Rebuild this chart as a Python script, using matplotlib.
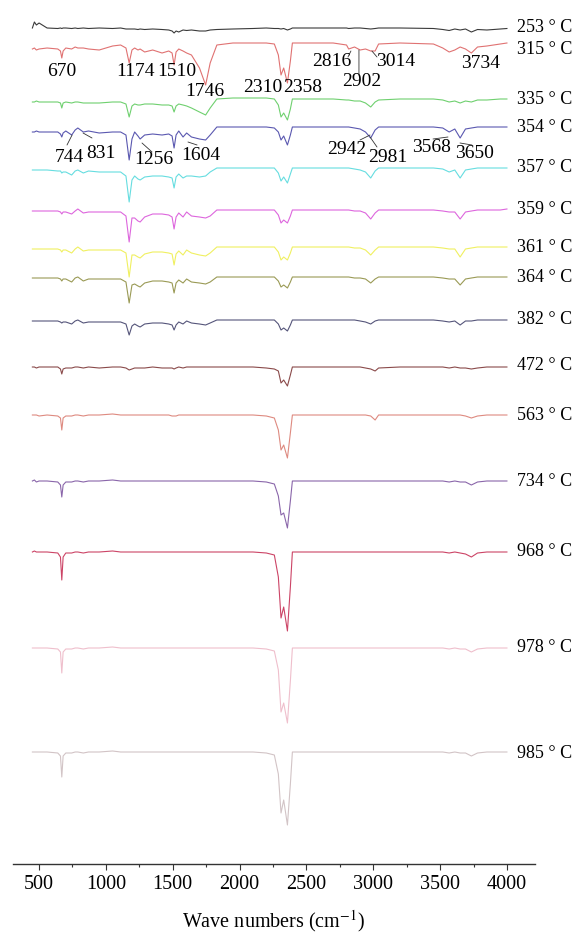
import numpy as np
import matplotlib
matplotlib.use("Agg")
import matplotlib.pyplot as plt

plt.rcParams["font.family"] = ["Liberation Serif", "DejaVu Serif"]
plt.rcParams["mathtext.fontset"] = "stix"

# Wavenumber grid (cm-1) shared by all spectra
WAVENUMBER = [
    450, 465, 480, 500, 560, 640, 660, 670, 680, 700,
    744, 770, 790, 831, 870, 950, 1050, 1110, 1150, 1174,
    1195, 1215, 1240, 1256, 1290, 1350, 1420, 1470, 1495, 1510,
    1525, 1545, 1577, 1604, 1640, 1700, 1746, 1780, 1830, 1950,
    2100, 2200, 2260, 2290, 2310, 2330, 2358, 2380, 2395, 2500,
    2700, 2800, 2816, 2860, 2902, 2942, 2981, 3014, 3040, 3200,
    3450, 3520, 3568, 3610, 3650, 3690, 3734, 3780, 3850, 3950,
    4000]

# Absorption depth (a.u., larger = stronger band) for each temperature
A253 = [0, -6, -3, -5, 0, 0.5, 0, 0.5, 0, 0,
        0.5, 0, 0.5, 0, 0.5, 0, 0.5, 0, 1, 1,
        1, 1, 1.5, 1, 1.5, 1, 1.5, 2, 3, 5,
        3, 4, 2, 2.5, 2, 3, 3, 2, 1.5, 1,
        0.5, 0, 0.5, 0.5, 1, 0.5, 2, 1, 0, 0,
        0, 0, 0.5, 0, 0, 0.5, 1, 0.5, 0, 0,
        0.5, 1.5, 2.5, 1, 2, 1, 4, 1.5, 2, 1,
        0.5]
A315 = [6, 5, 7, 6, 5, 6, 8, 15, 8, 5,
        6, 4, 5, 5, 6, 7, 3, 2, 5, 20,
        7, 5, 7, 6, 9, 7, 10, 8, 10, 22,
        9, 6, 8, 10, 12, 25, 42, 20, 2, 0,
        0, 0, 1, 12, 32, 25, 40, 18, 0, 0,
        0, 2, 6, 4, 7, 6, 8, 8, 1, 0,
        1, 5, 9, 7, 4, 6, 10, 4, 3, 1,
        0]
A335 = [3, 3, 2, 3, 3, 3, 4, 9, 4, 3,
        4, 3, 3, 4, 4, 4, 3, 3, 5, 18,
        7, 5, 6, 6, 5, 5, 6, 6, 7, 13,
        7, 5, 6, 7, 9, 13, 16, 9, 0, -1,
        -1, -1, 0, 6, 18, 14, 21, 10, 0, 0,
        0, 1, 1, 2, 2, 4, 8, 3, 1, 0,
        0, 1, 3, 2, 4, 2, 3, 1, 1, 0,
        0]
A354 = [5, 5, 4, 5, 5, 5, 7, 10, 6, 4,
        8, 3, 1, 5, 4, 6, 5, 5, 8, 33,
        12, 5, 9, 12, 8, 7, 8, 7, 9, 21,
        8, 4, 10, 6, 10, 12, 13, 8, 0, 0,
        0, 0, 1, 5, 13, 9, 18, 8, 0, 0,
        0, 0, 0, 1, 2, 5, 11, 3, 0, 0,
        0, 1, 5, 2, 11, 2, 1, 0, 0, 0,
        0]
A357 = [2, 2, 2, 2, 2, 3, 3, 5, 4, 4,
        7, 3, 2, 5, 3, 4, 4, 4, 8, 34,
        12, 8, 11, 12, 9, 8, 8, 9, 10, 20,
        9, 6, 10, 8, 8, 9, 8, 4, 0, 0,
        0, 0, 0, 5, 13, 9, 15, 6, 0, 0,
        0, 0, 0, 1, 2, 4, 10, 3, 0, 0,
        0, 1, 4, 2, 10, 2, 1, 0, 0, 0,
        0]
A359 = [1, 1, 1, 1, 1, 1, 2, 4, 2, 2,
        4, 1, -1, 3, 2, 2, 2, 2, 6, 32,
        8, 8, 11, 12, 7, 4, 4, 5, 7, 19,
        7, 3, 7, 2, 6, 7, 8, 6, 0, 0,
        0, 0, 0, 5, 13, 10, 13, 6, 0, 0,
        0, 0, 0, 1, 1, 3, 9, 3, 0, 0,
        0, 1, 2, 2, 9, 2, 1, 0, 0, 0,
        -1]
A361 = [2, 2, 2, 2, 2, 2, 3, 5, 3, 3,
        6, 2, 0, 4, 3, 3, 3, 3, 6, 30,
        8, 8, 10, 11, 7, 5, 5, 6, 7, 18,
        7, 4, 8, 3, 6, 8, 9, 6, 0, 0,
        0, 0, 0, 5, 13, 10, 13, 6, 0, 0,
        0, 0, 0, 1, 1, 3, 8, 3, 0, 0,
        0, 1, 2, 2, 10, 2, 1, 0, 0, 0,
        0]
A364 = [1, 1, 1, 1, 1, 1, 2, 4, 2, 2,
        5, 1, 0, 4, 2, 2, 2, 2, 5, 26,
        8, 7, 9, 10, 6, 4, 4, 5, 6, 16,
        6, 3, 6, 2, 5, 6, 7, 5, 0, 0,
        0, 0, 0, 4, 10, 8, 11, 5, 0, 0,
        0, 0, 0, 1, 1, 2, 6, 2, 0, 0,
        0, 1, 2, 2, 8, 2, 1, 0, 0, 0,
        0]
A382 = [1, 1, 1, 1, 1, 1, 2, 3, 2, 2,
        4, 1, 0, 3, 2, 2, 2, 2, 4, 15,
        6, 4, 6, 7, 4, 3, 3, 4, 5, 10,
        5, 2, 4, 1, 3, 4, 5, 3, 0, 0,
        0, 0, 0, 4, 10, 8, 11, 5, 0, 0,
        0, 0, 0, 0, 1, 2, 4, 1, 0, 0,
        0, 1, 2, 1, 5, 1, 1, 0, 0, 0,
        0]
A472 = [0, 0, 1, 0, 0, 0, 2, 7, 2, 1,
        1, 0, 0, 1, 0, 1, 0, 0, 1, 3,
        2, 1, 1, 1, 1, 0, 1, 1, 1, 2,
        1, 0, 1, 0, 0, 0, 0, 0, 0, 0,
        0, 1, 2, 4, 16, 13, 19, 8, 0, 0,
        0, 0, 0, 0, 0, 1, 2, 4, 1, 0,
        0, 0, 1, 0, 1, 1, 2, 1, 0, 0,
        0]
A563 = [0, 0, 0, 1, 0, 1, 3, 15, 3, 1,
        1, 0, 0, 1, 0, 0, -1, 0, 0, 0,
        0, 0, 0, 0, 0, 0, 0, 0, 1, 1,
        1, 0, 0, 0, 0, 0, 0, 0, 0, 0,
        0, 1, 3, 15, 35, 30, 43, 18, 0, 0,
        0, 0, 0, 0, 0, 0, 1, 5, 0, 0,
        0, 0, 0, 0, 0, 1, 3, 1, 0, 0,
        0]
A734 = [0, -1, 1, 0, 0, 1, 4, 16, 4, 1,
        1, 0, 0, 1, 0, 0, -1, 0, 0, 0,
        0, 0, 0, 0, 0, 0, 0, 0, 0, 0,
        0, 0, 0, 0, 0, 0, 0, 0, 0, 0,
        0, 1, 3, 15, 34, 32, 47, 20, 0, 0,
        0, 0, 0, 0, 0, 0, 0, 0, 0, 0,
        0, 0, 1, 0, 1, 1, 4, 1, 0, 0,
        0]
A968 = [0, -1, 0, 0, 0, 1, 5, 28, 5, 1,
        1, 0, 0, 1, 0, 0, -1, 0, 0, 0,
        0, 0, 0, 0, 0, 0, 0, 0, 0, 0,
        0, 0, 0, 0, 0, 0, 0, 0, 0, 0,
        0, 1, 3, 25, 66, 55, 79, 35, 0, 0,
        0, 0, 0, 0, 0, 0, 0, 0, 0, 0,
        0, 0, 1, 0, 1, 2, 5, 1, 0, 0,
        0]
A978 = [0, 0, 0, 0, 0, 1, 4, 25, 4, 1,
        1, 0, 0, 1, 0, 0, -1, 0, 0, 0,
        0, 0, 0, 0, 0, 0, 0, 0, 0, 0,
        0, 0, 0, 0, 0, 0, 0, 0, 0, 0,
        0, 1, 3, 22, 64, 55, 75, 33, 0, 0,
        0, 0, 0, 0, 0, 0, 0, 0, 0, 0,
        0, 0, 1, 0, 1, 1, 4, 1, 0, 0,
        0]
A985 = [0, 0, 0, 0, 0, 1, 4, 25, 4, 1,
        1, 0, 0, 1, 0, 0, -1, 0, 0, 0,
        0, 0, 0, 0, 0, 0, 0, 0, 0, 0,
        0, 0, 0, 0, 0, 0, 0, 0, 0, 0,
        0, 1, 3, 22, 61, 48, 73, 32, 0, 0,
        0, 0, 0, 0, 0, 0, 0, 0, 0, 0,
        0, 0, 1, 0, 1, 1, 4, 1, 0, 0,
        0]

TEMPERATURES = [253, 315, 335, 354, 357, 359, 361, 364, 382, 472, 563, 734, 968, 978, 985]
SPECTRA = [A253, A315, A335, A354, A357, A359, A361, A364, A382, A472,
           A563, A734, A968, A978, A985]

# Stacking layout: vertical offset of each trace, and label nudge
OFFSETS = [28, 43, 99, 127, 168, 210, 247, 277, 320, 367, 415, 481, 552, 648, 752]
LABEL_SHIFT = [-1, 6, 0, 1, 0, 0, 1, 0, 0, -2, 0, 0, 0, -1, 1]
COLORS = ["#3a3a3a", "#e07272", "#6fd06f", "#5a58b0", "#66dde0", "#dd66dd",
          "#f0f060", "#9a9a55", "#55557a", "#8a4a4a", "#de8a80", "#8a66aa",
          "#cc4466", "#efbfcc", "#d2c4c6"]

# Band assignments marked on the 315 and 354 degree spectra
PEAKS_315 = ["670", "1174", "1510", "1746", "2310", "2358", "2816", "2902", "3014", "3734"]
PEAKS_315_POS = [(672, 72), (1218, 72), (1532, 72), (1742, 91), (2175, 87), (2475, 88),
                 (2691, 62), (2916, 82), (3170, 62), (3806, 63)]
PEAKS_354 = ["744", "831", "1256", "1604", "2942", "2981", "3568", "3650"]
PEAKS_354_POS = [(724, 158), (964, 153), (1360, 160), (1712, 155), (2804, 150),
                 (3110, 157), (3432, 147), (3754, 153)]
LEADERS = [((2811, 57), (2833, 51)), ((2893, 75), (2893, 50)), ((3028, 57), (2990, 51)),
           ((709, 145), (747, 135)), ((829, 133), (896, 138)), ((1270, 143), (1345, 152)),
           ((1614, 142), (1682, 145)), ((2901, 140), (2976, 135)), ((2976, 137), (3028, 147)),
           ((3447, 139), (3559, 137)), ((3649, 143), (3738, 145))]

W, H = 574, 935
fig = plt.figure(figsize=(W / 100, H / 100), dpi=100)
ax = fig.add_axes([13 / W, (H - 864) / H, 522 / W, 864 / H])

wn = np.array(WAVENUMBER)
for spec, off, col, t, sh in zip(SPECTRA, OFFSETS, COLORS, TEMPERATURES, LABEL_SHIFT):
    ax.plot(wn, off + np.array(spec), color=col, lw=0.8, solid_joinstyle="round")
    ax.text(4075, off + sh, f"{t} \u00b0 C", fontsize=13, va="center", ha="left",
            clip_on=False)

for lab, (x, y) in zip(PEAKS_315 + PEAKS_354, PEAKS_315_POS + PEAKS_354_POS):
    ax.text(x, y, lab, fontsize=14, ha="center", va="center")
for (x0, y0), (x1, y1) in LEADERS:
    ax.annotate("", xy=(x1, y1), xytext=(x0, y0),
                arrowprops=dict(arrowstyle="-", color="#333333", lw=0.6,
                                shrinkA=0, shrinkB=0))

ax.set_xlim(305, 4210)
ax.set_ylim(864, 0)
for s in ["left", "right", "top"]:
    ax.spines[s].set_visible(False)
ax.spines["bottom"].set_color("#333333")
ax.spines["bottom"].set_linewidth(1.0)
ax.set_yticks([])
ax.set_xticks(np.arange(500, 4001, 500))
ax.set_xticks(np.arange(750, 4000, 500), minor=True)
ax.tick_params(axis="x", which="major", direction="out", length=4, width=0.8,
               color="#333333", labelsize=14.5, pad=4)
ax.tick_params(axis="x", which="minor", direction="out", length=2, width=0.8,
               color="#333333")
ax.set_xlabel("Wave numbers (cm$^{-1}$)", fontsize=14.5, labelpad=10)

fig.savefig("out.png", dpi=100, facecolor="white")
